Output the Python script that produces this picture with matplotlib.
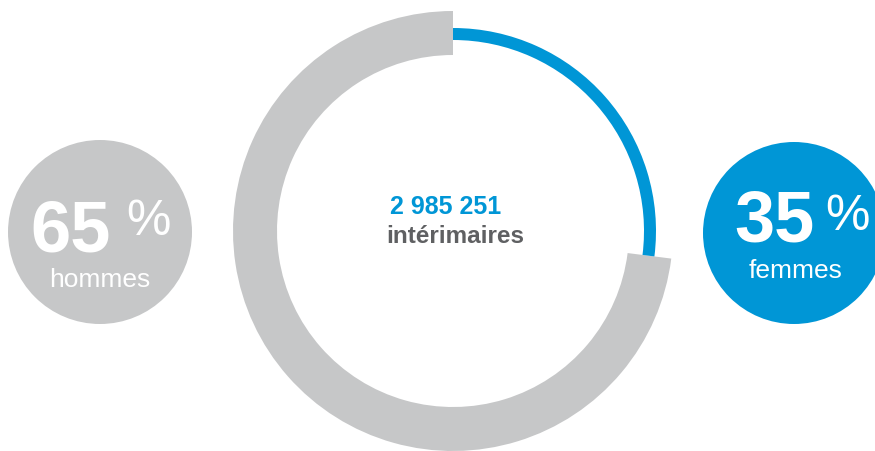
import matplotlib.pyplot as plt
from matplotlib.patches import Circle

# data
groups = ["hommes", "femmes"]
shares = [65, 35]
# arc lengths as drawn on the ring (blue arc is shorter than 35% in the original)
ring_arc = [27, 73]
total_label = "2 985 251"
total_caption = "intérimaires"

gray = "#c6c7c8"
blue = "#0096d6"
dark = "#5f6062"

plt.rcParams["font.family"] = ["Liberation Sans", "DejaVu Sans"]

fig = plt.figure(figsize=(8.75, 4.52), dpi=100)
ax = fig.add_axes([0, 0, 1, 1])

cx, cy = 453, 220

# thick gray ring (hommes)
ax.pie(ring_arc, colors=["none", gray], radius=220, center=(cx, cy),
       startangle=90, counterclock=False,
       wedgeprops=dict(width=44, linewidth=0))
# thin blue ring (femmes)
ax.pie(ring_arc, colors=[blue, "none"], radius=203, center=(cx, cy),
       startangle=90, counterclock=False,
       wedgeprops=dict(width=12, linewidth=0))

ax.text(446, 245, total_label, color=blue, fontsize=18, fontweight="bold",
        ha="center", va="center")
ax.text(455, 209, total_caption, color=dark, fontsize=17.5, fontweight="bold",
        ha="center", va="baseline")

# side bubbles: centre, radius, colour, number x, number dy, % x, % dy, label dy
bubbles = [
    (100, 219, 92, gray, 71, -19, 148, -2, -54),
    (794, 218, 91, blue, 774, -8, 847, 4, -44),
]
for (bx, by, br, col, nx, ndy, px, pdy, ldy), g, s in zip(bubbles, groups, shares):
    ax.add_patch(Circle((bx, by), br, color=col, lw=0))
    ax.text(nx, by + ndy, f"{s}", color="white", fontsize=52,
            fontweight="bold", ha="center", va="baseline")
    ax.text(px, by + pdy, "%", color="white", fontsize=36,
            ha="center", va="baseline")
    ax.text(bx if g == "hommes" else bx + 2, by + ldy, g, color="white",
            fontsize=19, ha="center", va="baseline")

ax.set_xlim(0, 875)
ax.set_ylim(0, 452)
ax.set_aspect("equal")
ax.axis("off")

fig.savefig("out.png", dpi=100)
